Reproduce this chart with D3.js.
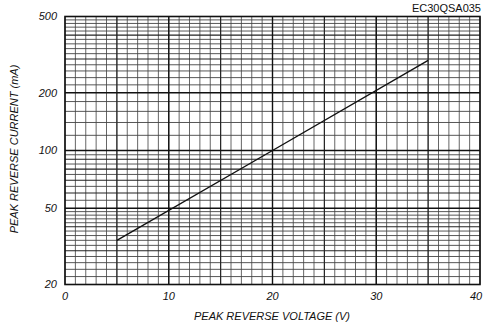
<!DOCTYPE html>
<html>
<head>
<meta charset="utf-8">
<script src="https://cdn.jsdelivr.net/npm/d3@7"></script>
<style>
  html, body { margin: 0; padding: 0; background: #fff; }
  svg { display: block; }
  text { font-family: "Liberation Sans", Arial, sans-serif; fill: #111; }
</style>
</head>
<body>
<svg id="chart" width="484" height="326"></svg>
<script>
// Characteristic curve: peak reverse current vs peak reverse voltage
const voltage = [5, 20, 35];          // V
const current = [34, 100, 295];       // mA

// Axis tick labels
const xTicks = [0, 10, 20, 30, 40];
const yTicks = [20, 50, 100, 200, 500];

// Grid lines on semi-log paper
const xMinorGrid = d3.range(0, 41, 1);
const xMidGrid = [5, 15, 25, 35];
const xMajorGrid = [10, 20, 30];
const yMinorGrid = [22, 24, 26, 28, 32, 34, 36, 38, 42, 44, 46, 48,
                    55, 65, 75, 85, 95,
                    120, 140, 160, 180,
                    220, 240, 260, 280, 320, 340, 360, 380, 420, 440, 460, 480];
const yMajorGrid = [30, 40, 60, 70, 80, 90, 300, 400];
const yHeavyGrid = [50, 100, 200];

const partName = "EC30QSA035";
const xTitle = "PEAK REVERSE VOLTAGE (V)";
const yTitle = "PEAK REVERSE CURRENT (mA)";

const svg = d3.select("#chart");
const plot = { left: 65, right: 480, top: 16.5, bottom: 284.5 };

const x = d3.scaleLinear().domain([0, 40]).range([plot.left, plot.right]);
const y = d3.scaleLog().domain([20, 500]).range([plot.bottom, plot.top]);

const grid = svg.append("g");

function vLines(vals, color, width) {
  grid.append("g").selectAll("line").data(vals).join("line")
    .attr("x1", d => x(d)).attr("x2", d => x(d))
    .attr("y1", plot.top).attr("y2", plot.bottom)
    .attr("stroke", color).attr("stroke-width", width);
}
function hLines(vals, color, width) {
  grid.append("g").selectAll("line").data(vals).join("line")
    .attr("x1", plot.left).attr("x2", plot.right)
    .attr("y1", d => y(d)).attr("y2", d => y(d))
    .attr("stroke", color).attr("stroke-width", width);
}

vLines(xMinorGrid, "#555", 0.9);
hLines(yMinorGrid, "#444", 0.9);
hLines(yMajorGrid, "#222", 1.1);
vLines(xMidGrid, "#222", 1.1);
vLines(xMajorGrid, "#111", 1.4);
hLines(yHeavyGrid, "#111", 1.4);

// frame
svg.append("rect")
  .attr("x", plot.left).attr("y", plot.top)
  .attr("width", plot.right - plot.left).attr("height", plot.bottom - plot.top)
  .attr("fill", "none").attr("stroke", "#111").attr("stroke-width", 1.6);

// curve
const line = d3.line().x((d, i) => x(voltage[i])).y(d => y(d));
svg.append("path")
  .datum(current)
  .attr("d", line)
  .attr("fill", "none").attr("stroke", "#111").attr("stroke-width", 1.4);

// y tick labels
svg.append("g").selectAll("text").data(yTicks).join("text")
  .attr("x", 57).attr("y", d => y(d)).attr("dy", "0.35em")
  .attr("text-anchor", "end")
  .attr("font-size", 11).attr("font-style", "italic")
  .text(d => d);

// x tick labels; the last one is kept inside the page edge
svg.append("g").selectAll("text").data(xTicks).join("text")
  .attr("x", d => Math.min(x(d), 476)).attr("y", 300)
  .attr("text-anchor", "middle")
  .attr("font-size", 11).attr("font-style", "italic")
  .text(d => d);

// axis titles
svg.append("text")
  .attr("x", 272).attr("y", 320)
  .attr("text-anchor", "middle")
  .attr("font-size", 11).attr("font-style", "italic")
  .text(xTitle);

svg.append("text")
  .attr("transform", "translate(18,149) rotate(-90)")
  .attr("text-anchor", "middle")
  .attr("font-size", 11).attr("font-style", "italic")
  .text(yTitle);

// part number
svg.append("text")
  .attr("x", 481).attr("y", 12)
  .attr("text-anchor", "end")
  .attr("font-size", 11)
  .text(partName);
</script>
</body>
</html>
